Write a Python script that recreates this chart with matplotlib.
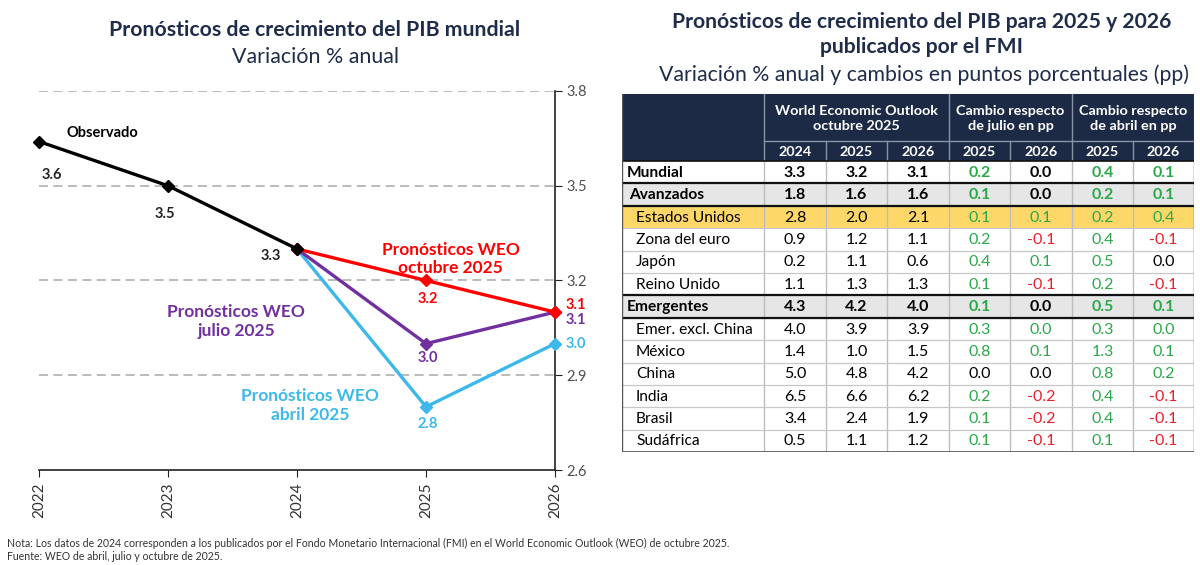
import matplotlib
matplotlib.use("Agg")
import matplotlib.pyplot as plt
from matplotlib.patches import Rectangle

plt.rcParams['font.family'] = ['Lato', 'DejaVu Sans']

# ---------------- data: line chart ----------------
years_obs = [2022, 2023, 2024]
obs_vals = [3.64, 3.5, 3.3]
years_fc = [2024, 2025, 2026]
oct_vals = [3.3, 3.2, 3.1]
jul_vals = [3.3, 3.0, 3.1]
abr_vals = [3.3, 2.8, 3.0]
x_ticks = [2022, 2023, 2024, 2025, 2026]
y_ticks = [2.6, 2.9, 3.2, 3.5, 3.8]

# ---------------- data: table ----------------
countries = ["Mundial", "Avanzados", "Estados Unidos", "Zona del euro", "Japón",
             "Reino Unido", "Emergentes", "Emer. excl. China", "México", "China",
             "India", "Brasil", "Sudáfrica"]
weo_2024 = [3.3, 1.8, 2.8, 0.9, 0.2, 1.1, 4.3, 4.0, 1.4, 5.0, 6.5, 3.4, 0.5]
weo_2025 = [3.2, 1.6, 2.0, 1.2, 1.1, 1.3, 4.2, 3.9, 1.0, 4.8, 6.6, 2.4, 1.1]
weo_2026 = [3.1, 1.6, 2.1, 1.1, 0.6, 1.3, 4.0, 3.9, 1.5, 4.2, 6.2, 1.9, 1.2]
jul_2025 = [0.2, 0.1, 0.1, 0.2, 0.4, 0.1, 0.1, 0.3, 0.8, 0.0, 0.2, 0.1, 0.1]
jul_2026 = [0.0, 0.0, 0.1, -0.1, 0.1, -0.1, 0.0, 0.0, 0.1, 0.0, -0.2, -0.2, -0.1]
abr_2025 = [0.4, 0.2, 0.2, 0.4, 0.5, 0.2, 0.5, 0.3, 1.3, 0.8, 0.4, 0.4, 0.1]
abr_2026 = [0.1, 0.1, 0.4, -0.1, 0.0, -0.1, 0.1, 0.0, 0.1, 0.2, -0.1, -0.1, -0.1]
header_groups = ["World Economic Outlook\noctubre 2025",
                 "Cambio respecto\nde julio en pp",
                 "Cambio respecto\nde abril en pp"]
header_years = ["2024", "2025", "2026", "2025", "2026", "2025", "2026"]
bold_rows = {"Mundial", "Avanzados", "Emergentes"}
gray_rows = {"Avanzados", "Emergentes"}
yellow_rows = {"Estados Unidos"}
indent_rows = {"Estados Unidos", "Zona del euro", "Japón", "Reino Unido",
               "Emer. excl. China", "México", "China", "India", "Brasil", "Sudáfrica"}
positive_zero = {("Emer. excl. China", 1), ("Emer. excl. China", 3)}

# ---------------- styles ----------------
NAVY = "#1f2d4a"
HEAD = "#1c2a46"
RED = "#ff0000"
PURPLE = "#7030a0"
BLUE = "#3cb9ea"
GREEN = "#2aa84a"
NEG = "#e8202a"

W, H = 1200, 565
fig = plt.figure(figsize=(12, 5.65), dpi=100)
fig.patch.set_facecolor("white")

# ---------------- left chart ----------------
ax = fig.add_axes([39 / W, 1 - 470 / H, (555 - 39) / W, (470 - 91) / H])
ax.set_xlim(2022, 2026)
ax.set_ylim(2.6, 3.8)
for s in ["left", "top"]:
    ax.spines[s].set_visible(False)
ax.spines["right"].set_color("#222222")
ax.spines["bottom"].set_color("#222222")
ax.spines["right"].set_linewidth(1.2)
ax.spines["bottom"].set_linewidth(1.2)
ax.yaxis.tick_right()
ax.set_yticks(y_ticks)
ax.set_yticklabels([f"{v:.1f}" for v in y_ticks])
ax.set_xticks(x_ticks)
ax.set_xticklabels([str(x) for x in x_ticks], rotation=90)
ax.tick_params(axis="y", direction="out", length=5, color="#222222",
               labelsize=10.5, labelcolor="#505050", pad=3)
ax.tick_params(axis="x", direction="out", length=5, color="#222222",
               labelsize=11, labelcolor="#333333", pad=4)
for yv in y_ticks[1:]:
    ax.axhline(yv, color="#b5b5b5", lw=1.3, ls=(0, (5, 3)), zorder=0)

lkw = dict(lw=2.4, marker="D", markersize=6.5, clip_on=False, zorder=3)
ax.plot(years_fc, abr_vals, color=BLUE, **lkw)
ax.plot(years_fc, jul_vals, color=PURPLE, **lkw)
ax.plot(years_fc, oct_vals, color=RED, **lkw)
ax.plot(years_obs, obs_vals, color="black", **lkw)

def lab(x, y, dx, dy, color, txt=None):
    ax.annotate(txt if txt else f"{y:.1f}", (x, y), xytext=(dx, dy),
                textcoords="offset points", ha="center", va="center",
                fontsize=10.5, fontweight="bold", color=color, annotation_clip=False)

lab(years_obs[0], obs_vals[0], 9, -24, "#222222")
lab(years_obs[1], obs_vals[1], -2, -20, "#222222")
lab(years_obs[2], obs_vals[2], -19, -5, "#222222")
lab(years_fc[1], oct_vals[1], 1, -13, RED)
lab(years_fc[1], jul_vals[1], 1, -10, PURPLE)
lab(years_fc[1], abr_vals[1], 1, -12, BLUE)
lab(years_fc[2], oct_vals[2], 15, 5, RED)
lab(years_fc[2], jul_vals[2], 15, -6, PURPLE)
lab(years_fc[2], abr_vals[2], 15, 0, BLUE)

ax.text(2022.49, 3.667, "Observado", ha="center", va="center", fontsize=10.5,
        fontweight="bold", color="black")
ax.text(2025.19, 3.268, "Pronósticos WEO\noctubre 2025", ha="center", va="center",
        fontsize=12.5, fontweight="bold", color=RED, linespacing=1.2)
ax.text(2023.53, 3.07, "Pronósticos WEO\njulio 2025", ha="center", va="center",
        fontsize=12.5, fontweight="bold", color=PURPLE, linespacing=1.2)
ax.text(2024.10, 2.805, "Pronósticos WEO\nabril 2025", ha="center", va="center",
        fontsize=12.5, fontweight="bold", color=BLUE, linespacing=1.2)

# ---------------- titles ----------------
fig.text(315 / W, 1 - 30 / H, "Pronósticos de crecimiento del PIB mundial",
         ha="center", va="center", fontsize=15.3, fontweight="bold", color=NAVY)
fig.text(315 / W, 1 - 57 / H, "Variación % anual", ha="center", va="center",
         fontsize=15.4, color=NAVY)
fig.text(922 / W, 1 - 22 / H, "Pronósticos de crecimiento del PIB para 2025 y 2026",
         ha="center", va="center", fontsize=15.2, fontweight="bold", color=NAVY)
fig.text(922 / W, 1 - 47 / H, "publicados por el FMI", ha="center", va="center",
         fontsize=15.2, fontweight="bold", color=NAVY)
fig.text(924 / W, 1 - 75 / H, "Variación % anual y cambios en puntos porcentuales (pp)",
         ha="center", va="center", fontsize=15.3, color=NAVY)

fig.text(7 / W, 1 - 543 / H,
         "Nota: Los datos de 2024 corresponden a los publicados por el Fondo Monetario "
         "Internacional (FMI) en el World Economic Outlook (WEO) de octubre 2025.",
         ha="left", va="center", fontsize=7.6, color="#333333")
fig.text(7 / W, 1 - 556 / H, "Fuente: WEO de abril, julio y octubre de 2025.",
         ha="left", va="center", fontsize=7.6, color="#333333")

# ---------------- table ----------------
col_w = [142, 62, 61, 62, 61, 62, 61, 61]
h1, h2, rh = 47, 20, 22.4
tw = sum(col_w)
th = h1 + h2 + rh * len(countries)
top_px = 94
tax = fig.add_axes([622 / W, 1 - (top_px + th) / H, tw / W, th / H])
tax.set_xlim(0, tw)
tax.set_ylim(th, 0)
tax.axis("off")

xs = [0]
for w in col_w:
    xs.append(xs[-1] + w)

# header background
tax.add_patch(Rectangle((0, 0), tw, h1 + h2, facecolor=HEAD, edgecolor="none"))
group_spans = [(1, 4), (4, 6), (6, 8)]
for (a, b), txt in zip(group_spans, header_groups):
    tax.text((xs[a] + xs[b]) / 2, h1 / 2 + 1, txt, ha="center", va="center",
             color="white", fontsize=10.4, fontweight="bold", linespacing=1.35)
for i, txt in enumerate(header_years):
    tax.text((xs[i + 1] + xs[i + 2]) / 2, h1 + h2 / 2 + 0.5, txt, ha="center",
             va="center", color="white", fontsize=10.4, fontweight="bold")
sep = "#8a93a5"
for x in [xs[1], xs[4], xs[6]]:
    tax.plot([x, x], [0, h1 + h2], color=sep, lw=1)
for x in xs[2:4] + xs[5:6] + xs[7:8]:
    tax.plot([x, x], [h1, h1 + h2], color=sep, lw=1)
tax.plot([xs[1], tw], [h1, h1], color=sep, lw=1)

# data rows
y0 = h1 + h2
changes = [jul_2025, jul_2026, abr_2025, abr_2026]
for r, name in enumerate(countries):
    yt = y0 + r * rh
    if name in gray_rows:
        fc = "#e6e6e6"
    elif name in yellow_rows:
        fc = "#fdd868"
    else:
        fc = "white"
    tax.add_patch(Rectangle((0, yt), tw, rh, facecolor=fc, edgecolor="none"))
    bold = "bold" if name in bold_rows else "normal"
    pad = 14 if name in indent_rows else (7 if name == "Avanzados" else 5)
    yc = yt + rh / 2 + 0.5
    tax.text(pad, yc, name, ha="left", va="center", fontsize=11.2,
             fontweight=bold, color="black")
    for j, arr in enumerate([weo_2024, weo_2025, weo_2026]):
        tax.text((xs[j + 1] + xs[j + 2]) / 2, yc, f"{arr[r]:.1f}", ha="center",
                 va="center", fontsize=11.5, fontweight=bold, color="black")
    for j, arr in enumerate(changes):
        v = arr[r]
        if v > 0 or (name, j) in positive_zero:
            c = GREEN
        elif v < 0:
            c = NEG
        else:
            c = "black"
        tax.text((xs[j + 4] + xs[j + 5]) / 2, yc, f"{v:.1f}", ha="center",
                 va="center", fontsize=11.5, fontweight=bold, color=c)

# grid lines
for x in xs[1:-1]:
    tax.plot([x, x], [y0, th], color="#bdbdbd", lw=1, zorder=2)
for r in range(1, len(countries)):
    tax.plot([0, tw], [y0 + r * rh] * 2, color="#c8c8c8", lw=0.9, zorder=2)
thick_after = [0, 1, 5, 6]
for r in thick_after:
    tax.plot([0, tw], [y0 + (r + 1) * rh] * 2, color="#111111", lw=1.6, zorder=3)
tax.plot([0, tw], [y0, y0], color="#111111", lw=1.2, zorder=3)
tax.plot([0, 0], [0, th], color="#555555", lw=1, zorder=3)
tax.plot([tw, tw], [0, th], color="#555555", lw=1, zorder=3)
tax.plot([0, tw], [th, th], color="#555555", lw=1.2, zorder=3)

fig.savefig("out.png", dpi=100, facecolor="white")
